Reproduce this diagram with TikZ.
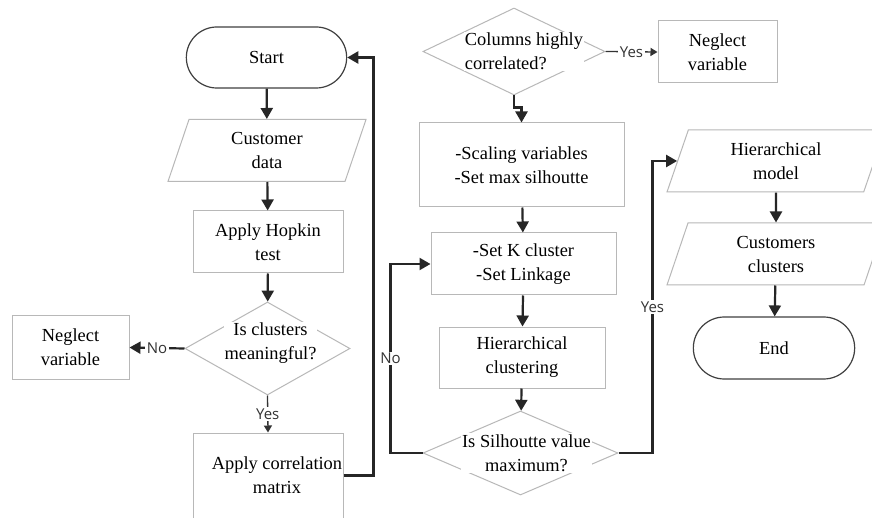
\documentclass[tikz,border=0pt]{standalone}
\usepackage{fontspec}
\setmainfont{Liberation Serif}
\newfontfamily\lblfont{Open Sans}
\usetikzlibrary{positioning, arrows.meta, shapes.geometric, shapes.misc}

\tikzset{
    termbox/.style={rounded rectangle, draw=black!75, line width=1.2pt,
        minimum width=167pt, minimum height=61pt, align=center},
    procbox/.style={rectangle, draw=black!28, line width=1pt,
        align=center, inner sep=0pt},
    iobox/.style={trapezium, trapezium left angle=60, trapezium right angle=120,
        trapezium stretches body=true, draw=black!28, line width=1pt,
        align=center, inner sep=0pt, minimum height=62pt},
    decbox/.style={diamond, draw=black!28, line width=1pt, inner sep=0pt},
    difftext/.style={align=center, fill=white, inner sep=1pt},
    flow/.style={line width=2.2pt, draw=black!85,
        -{Triangle[length=11pt,width=12pt]}},
    thinflow/.style={line width=1.3pt, draw=black!80,
        -{Triangle[length=7pt,width=8pt]}},
    lbl/.style={font=\lblfont\fontsize{15}{15}\selectfont, text=black!80,
        fill=white, inner sep=1.5pt}
}

\begin{document}
\begin{tikzpicture}[x=1pt, y=-1pt, font=\fontsize{18.4}{24}\selectfont]
    \useasboundingbox[fill=white] (0,0) rectangle (872,518);

    % left column
    \node[termbox] (start) at (266.5,57.5) {Start};
    \node[iobox, minimum width=198pt] (data) at (267,150.5) {Customer\\data};
    \node[procbox, minimum width=150pt, minimum height=62pt] (hopkin) at (268,242) {Apply Hopkin\\test};
    \node[decbox, minimum width=165pt, minimum height=93pt,
        label={[difftext, yshift=5pt, xshift=3pt]center:{Is clusters\\meaningful?}}] (clusters) at (267.5,348.5) {};
    \node[procbox, minimum width=117pt, minimum height=63pt] (neglecta) at (70.5,347.5) {Neglect\\variable};
    \node[procbox, minimum width=150pt, minimum height=85pt] (correl) at (268,475.5) {\hspace*{18pt}Apply correlation\\\hspace*{18pt}matrix};

    % middle column
    \node[decbox, minimum width=182pt, minimum height=87pt,
        label={[difftext, align=left, xshift=10pt]center:{Columns highly\\correlated?}}] (columns) at (514,51.5) {};
    \node[procbox, minimum width=119pt, minimum height=62pt] (neglectb) at (717.5,52) {Neglect\\variable};
    \node[procbox, minimum width=205pt, minimum height=84pt] (scaling) at (521.5,165) {-Scaling variables\\-Set max silhoutte};
    \node[procbox, minimum width=185pt, minimum height=62pt] (kset) at (523.5,264) {-Set K cluster\\-Set Linkage};
    \node[procbox, minimum width=166pt, minimum height=61pt] (hierclus) at (522,357.5) {Hierarchical\\clustering};
    \node[decbox, minimum width=195pt, minimum height=84pt,
        label={[difftext, xshift=6pt]center:{Is Silhoutte value\\maximum?}}] (silhoutte) at (520.5,453) {};

    % right column
    \node[iobox, minimum width=218pt] (model) at (776,161) {Hierarchical\\model};
    \node[iobox, minimum width=218pt] (custclus) at (776,254) {Customers\\clusters};
    \node[termbox, minimum width=168pt, minimum height=62pt] (finish) at (774,348) {End};

    % connectors
    \draw[flow] (start) -- (data);
    \draw[flow] (data) -- (hopkin);
    \draw[flow] (hopkin) -- (clusters);
    \draw[flow] (clusters.west) -- node[lbl] {No} (neglecta.east);
    \draw[thinflow] (clusters.south) -- node[lbl] {Yes} (correl.north);
    \draw[flow] (correl.east) -- ++(30,0) |- (start.east);
    \draw[thinflow] (columns.east) -- node[lbl] {Yes} (neglectb.west);
    \draw[flow] (columns.south) -- ++(0,12) -| (scaling.north);
    \draw[flow] (scaling) -- (kset);
    \draw[flow] (kset) -- (hierclus);
    \draw[flow] (hierclus) -- (silhoutte);
    \draw[flow] (silhoutte.west) -- ++(-32,0) |- node[lbl, pos=0.25] {No} (kset.west);
    \draw[flow] (silhoutte.east) -- ++(34,0) |- node[lbl, pos=0.25] {Yes} (model.west);
    \draw[flow] (model) -- (custclus);
    \draw[flow] (custclus) -- (finish);
\end{tikzpicture}
\end{document}
